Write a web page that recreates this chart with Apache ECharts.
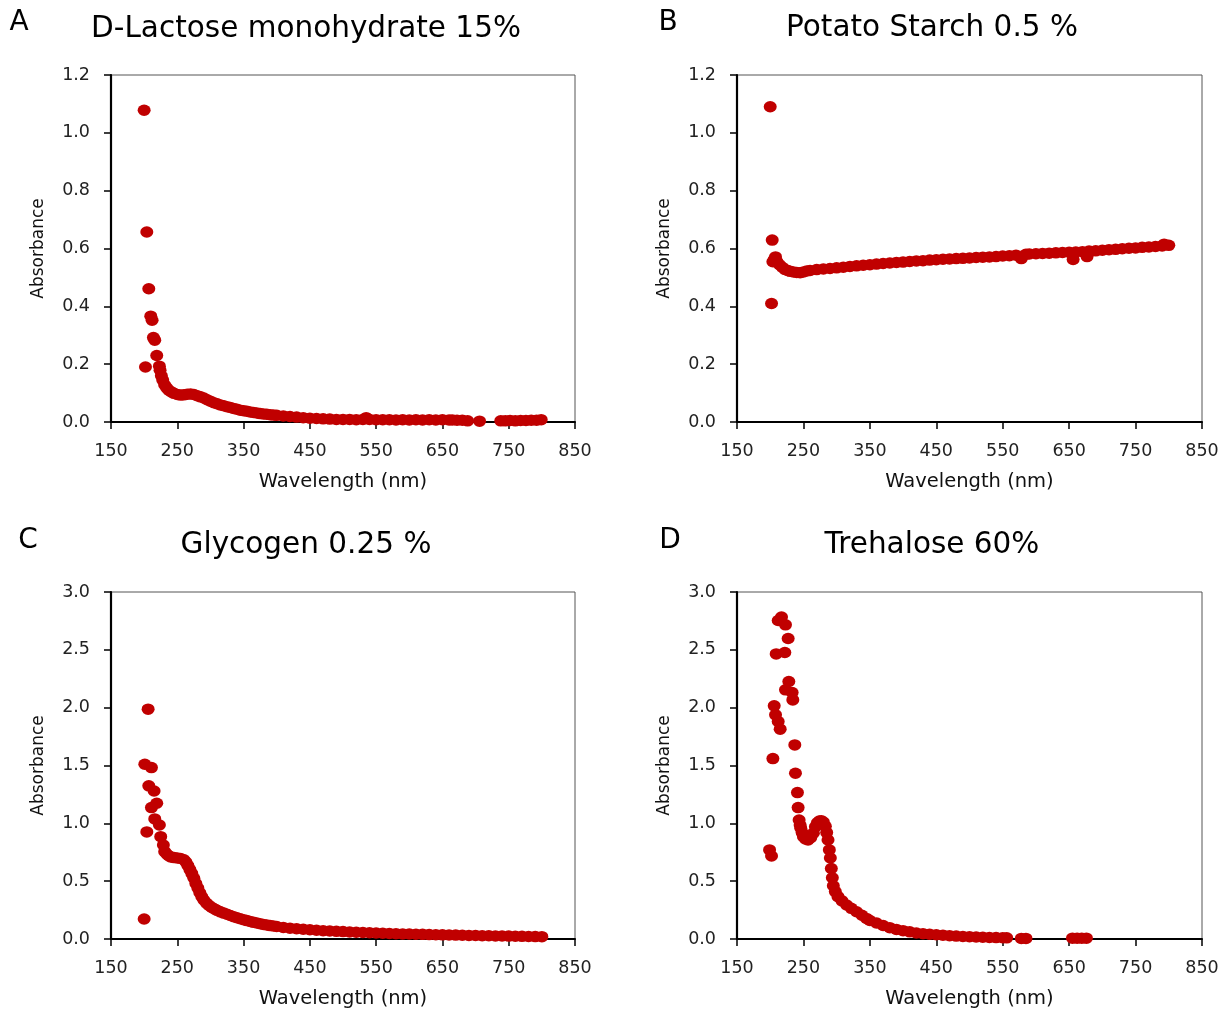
<!DOCTYPE html>
<html>
<head>
<meta charset="utf-8">
<script src="https://cdn.jsdelivr.net/npm/echarts@6/dist/echarts.min.js"></script>
<style>
html,body{margin:0;padding:0;background:#fff;}
#chart{width:1222px;height:1011px;}
</style>
</head>
<body>
<div id="chart"></div>
<script>
// ---- Data (wavelength nm, absorbance) ----
const panelLetters = ['A', 'B', 'C', 'D'];
const panelTitles = ['D-Lactose monohydrate 15%', 'Potato Starch 0.5 %', 'Glycogen 0.25 %', 'Trehalose 60%'];
const xTickMin = 150, xTickMax = 850, xTickStep = 100;
const yRangeTop = [1.2, 1.2, 3.0, 3.0];
const yTickStep = [0.2, 0.2, 0.5, 0.5];

const lactose = [
  [200,1.078],[204,0.657],[207,0.461],[210,0.366],[212,0.352],[214,0.292],[216,0.283],[219,0.230],[202,0.190],[223,0.193],
  [224,0.179],[226,0.160],[228,0.145],[231,0.128],[234,0.118],[237,0.110],[241,0.104],[245,0.099],[250,0.095],[255,0.093],
  [260,0.094],[265,0.096],[270,0.097],[275,0.095],[280,0.091],[285,0.087],[290,0.083],[295,0.077],[300,0.072],[305,0.067],
  [310,0.063],[315,0.059],[320,0.056],[325,0.053],[330,0.050],[335,0.047],[340,0.044],[345,0.041],[350,0.039],[355,0.037],
  [360,0.035],[365,0.033],[370,0.031],[375,0.029],[380,0.028],[385,0.027],[390,0.025],[395,0.024],[400,0.023],[410,0.021],
  [420,0.019],[430,0.017],[440,0.015],[450,0.013],[460,0.012],[470,0.011],[480,0.010],[490,0.009],[500,0.009],[510,0.009],
  [520,0.008],[530,0.009],[535,0.015],[540,0.009],[550,0.008],[560,0.008],[570,0.008],[580,0.007],[590,0.008],[600,0.007],
  [610,0.008],[620,0.007],[630,0.008],[640,0.007],[650,0.008],[660,0.007],[665,0.007],[672,0.006],[680,0.006],[688,0.004],
  [706,0.003],[738,0.004],[745,0.004],[752,0.005],[760,0.004],[768,0.005],[776,0.005],[784,0.006],[792,0.006],[799,0.008]
];

const starch = [
  [200,1.090],[203,0.629],[202,0.410],[204,0.554],[208,0.571],
  [206,0.562],[210,0.555],[214,0.544],[218,0.535],[222,0.528],[226,0.524],[230,0.521],[235,0.519],[240,0.517],[245,0.516],
  [250,0.519],[255,0.522],[260,0.524],[270,0.527],[280,0.529],[290,0.531],[300,0.533],[310,0.535],[320,0.538],[330,0.540],
  [340,0.542],[350,0.544],[360,0.546],[370,0.548],[380,0.550],[390,0.552],[400,0.553],[410,0.555],[420,0.557],[430,0.558],
  [440,0.560],[450,0.561],[460,0.563],[470,0.564],[480,0.565],[490,0.566],[500,0.567],[510,0.569],[520,0.570],[530,0.571],
  [540,0.572],[550,0.574],[560,0.575],[570,0.577],[578,0.565],[585,0.580],[590,0.581],[600,0.582],[610,0.583],[620,0.584],
  [630,0.585],[640,0.586],[650,0.587],[656,0.562],[660,0.588],[670,0.589],[677,0.572],[680,0.591],[690,0.592],[700,0.594],
  [710,0.596],[720,0.597],[730,0.599],[740,0.601],[750,0.602],[760,0.604],[770,0.605],[780,0.607],[790,0.609],[793,0.615],
  [800,0.611]
];

const glycogen = [
  [206,1.987],[201,1.511],[211,1.482],[207,1.324],[215,1.280],[219,1.174],[211,1.136],[216,1.038],[204,0.926],[223,0.986],
  [225,0.885],[200,0.173],[229,0.813],
  [231,0.755],[234,0.735],[237,0.720],[240,0.710],[245,0.704],[250,0.700],[255,0.696],[260,0.685],[263,0.665],[266,0.635],
  [269,0.600],[272,0.565],[275,0.525],[278,0.480],[281,0.440],[284,0.400],[287,0.365],[290,0.337],[294,0.310],[298,0.290],
  [302,0.273],[306,0.260],[310,0.248],[315,0.235],[320,0.224],[325,0.214],[330,0.203],[335,0.193],[340,0.184],[345,0.175],
  [350,0.167],[355,0.159],[360,0.151],[365,0.144],[370,0.138],[375,0.132],[380,0.126],[385,0.121],[390,0.116],[395,0.112],
  [400,0.108],[410,0.100],[420,0.094],[430,0.089],[440,0.084],[450,0.080],[460,0.076],[470,0.072],[480,0.069],[490,0.066],
  [500,0.064],[510,0.061],[520,0.058],[530,0.056],[540,0.054],[550,0.052],[560,0.050],[570,0.048],[580,0.046],[590,0.044],
  [600,0.043],[610,0.041],[620,0.040],[630,0.038],[640,0.037],[650,0.036],[660,0.035],[670,0.034],[680,0.032],[690,0.031],
  [700,0.030],[710,0.029],[720,0.028],[730,0.027],[740,0.026],[750,0.025],[760,0.024],[770,0.023],[780,0.022],[790,0.021],
  [800,0.020]
];

const trehalose = [
  [217,2.783],[212,2.754],[223,2.716],[227,2.598],[209,2.465],[222,2.477],[228,2.226],[223,2.154],[233,2.131],[234,2.067],
  [206,2.016],[208,1.938],[212,1.880],[215,1.814],[237,1.678],[204,1.560],[238,1.433],[241,1.266],[242,1.136],[199,0.770],
  [202,0.718],
  [243.5,1.029],[245,0.985],[246,0.958],[248,0.920],[250,0.885],[253,0.865],[257,0.856],[261,0.875],[265,0.914],[268,0.970],
  [271,1.005],[274,1.020],[277,1.023],[280,1.010],[283,0.975],[285,0.920],[287,0.856],[289,0.770],[290.5,0.700],[292,0.610],
  [293.5,0.530],[295,0.460],[298,0.410],[302,0.366],[308,0.330],[315,0.294],[322,0.265],[330,0.236],[338,0.205],[345,0.178],
  [350,0.160],[360,0.138],[370,0.117],[380,0.098],[390,0.083],[400,0.072],[410,0.062],[420,0.052],[430,0.046],[440,0.041],
  [450,0.037],[460,0.033],[470,0.029],[480,0.025],[490,0.022],[500,0.020],[510,0.017],[520,0.015],[530,0.013],[540,0.012],
  [550,0.011],[556,0.010],[578,0.005],[585,0.005],[655,0.007],[662,0.006],[669,0.006],[676,0.007]
];

const panelData = [lactose, starch, glycogen, trehalose];

// ---- Layout ----
const FONT = 'DejaVu Sans';
const gridBoxes = [
  {left: 111, top: 75, width: 464, height: 347},
  {left: 737, top: 75, width: 465, height: 347},
  {left: 111, top: 592, width: 464, height: 347},
  {left: 737, top: 592, width: 465, height: 347}
];
const letterPos = [[19, 23], [668, 23], [28, 541], [670, 541]];
const titlePos = [[306, 29], [932, 28], [306, 545], [932, 545]];
const RED = '#C00000';

const grids = [], xAxes = [], yAxes = [], series = [], texts = [];
for (let i = 0; i < 4; i++) {
  grids.push(Object.assign({show: true, borderColor: '#555', borderWidth: 1, backgroundColor: '#fff'}, gridBoxes[i]));
  xAxes.push({
    type: 'value', gridIndex: i, min: xTickMin, max: xTickMax, interval: xTickStep,
    name: 'Wavelength (nm)', nameLocation: 'middle', nameGap: 50,
    nameTextStyle: {fontFamily: FONT, fontSize: 19.5, color: '#111'},
    axisLine: {show: true, onZero: false, lineStyle: {color: '#000', width: 2}},
    axisTick: {show: true, inside: false, length: 7, lineStyle: {color: '#000', width: 1.5}},
    axisLabel: {fontFamily: FONT, fontSize: 17.5, color: '#222', margin: 20},
    splitLine: {show: false}
  });
  yAxes.push({
    type: 'value', gridIndex: i, min: 0, max: yRangeTop[i], interval: yTickStep[i],
    name: 'Absorbance', nameLocation: 'middle', nameGap: 64, nameRotate: 90,
    nameTextStyle: {fontFamily: FONT, fontSize: 17, color: '#111'},
    axisLine: {show: true, onZero: false, lineStyle: {color: '#000', width: 2.2}},
    axisTick: {show: true, inside: false, length: 7, lineStyle: {color: '#000', width: 1.5}},
    axisLabel: {fontFamily: FONT, fontSize: 17.5, color: '#222', margin: 21,
      formatter: v => v.toFixed(1)},
    splitLine: {show: false}
  });
  series.push({
    type: 'scatter', xAxisIndex: i, yAxisIndex: i,
    data: panelData[i], symbol: 'circle', symbolSize: [13, 11.5],
    itemStyle: {color: RED, opacity: 1}, clip: false, z: 3
  });
  texts.push({
    type: 'text', x: letterPos[i][0], y: letterPos[i][1],
    style: {text: panelLetters[i], font: '28px "' + FONT + '"', fill: '#000', textAlign: 'center', textVerticalAlign: 'middle'}
  });
  texts.push({
    type: 'text', x: titlePos[i][0], y: titlePos[i][1],
    style: {text: panelTitles[i], font: '29.5px "' + FONT + '"', fill: '#000', textAlign: 'center', textVerticalAlign: 'middle'}
  });
}

const chart = echarts.init(document.getElementById('chart'), null, {renderer: 'canvas'});
chart.setOption({
  backgroundColor: '#fff',
  animation: false,
  grid: grids,
  xAxis: xAxes,
  yAxis: yAxes,
  series: series,
  graphic: texts
});
</script>
</body>
</html>
